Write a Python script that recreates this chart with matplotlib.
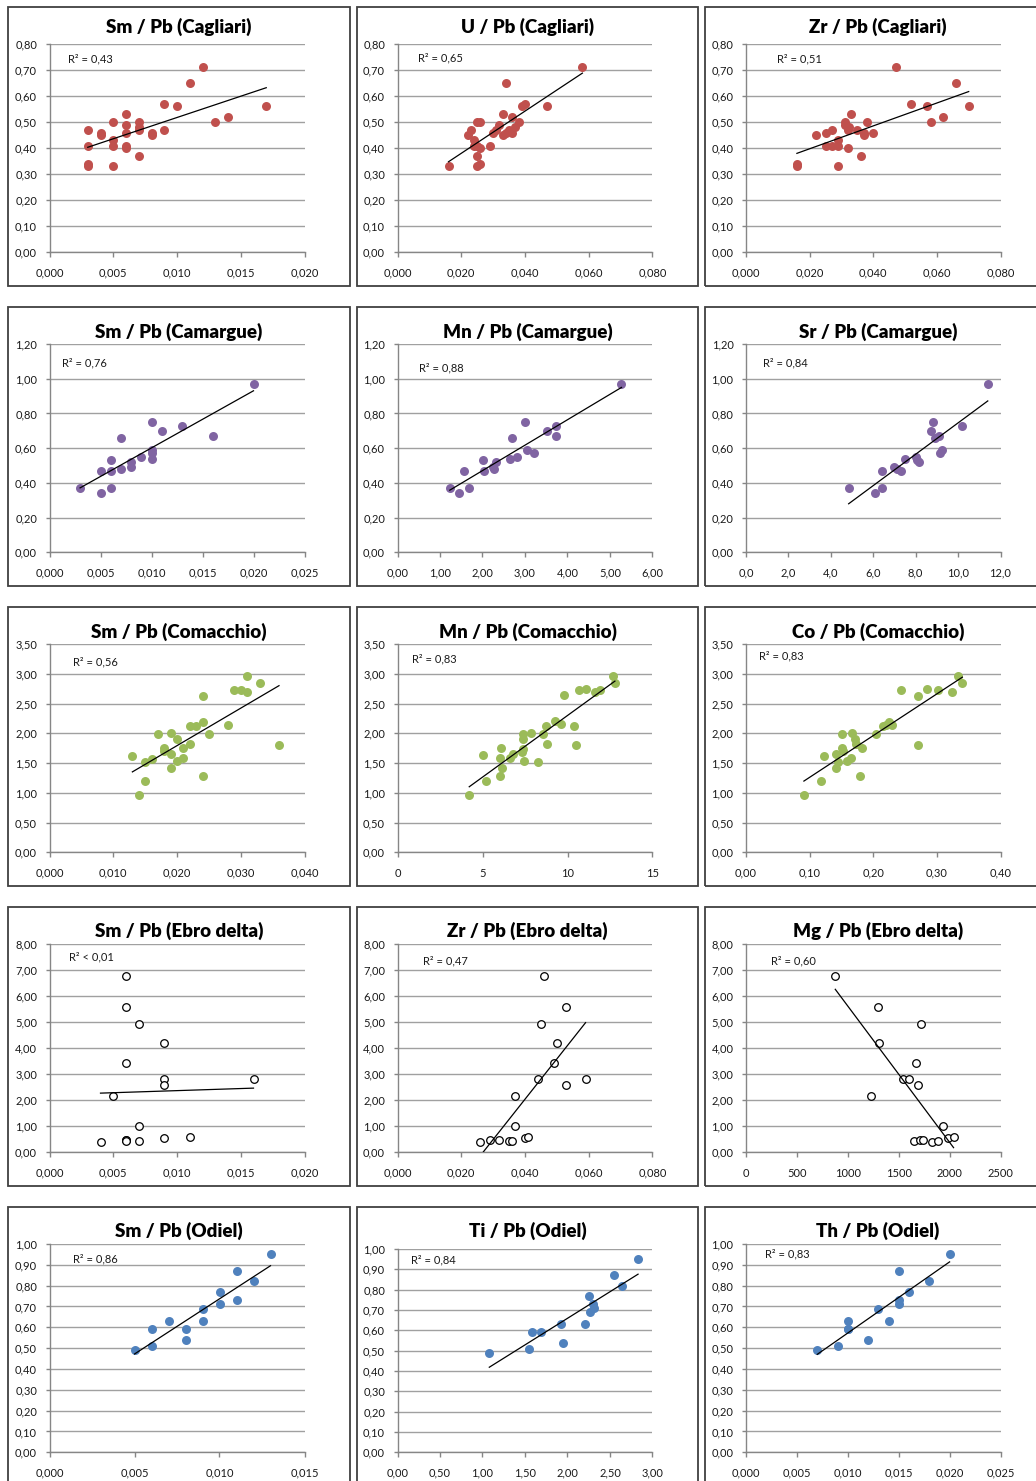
import numpy as np
import matplotlib
matplotlib.use("Agg")
import matplotlib.pyplot as plt
from matplotlib.patches import Rectangle
from matplotlib.ticker import FuncFormatter, MultipleLocator

plt.rcParams["font.family"] = ["Lato", "DejaVu Sans"]

# ---------------- data ----------------
# Cagliari
sm_cagliari_x = [0.003, 0.003, 0.003, 0.003, 0.004, 0.004, 0.005, 0.005, 0.005, 0.005, 0.006, 0.006, 0.006, 0.006,
                 0.006, 0.007, 0.007, 0.007, 0.007, 0.008, 0.008, 0.009, 0.009, 0.010, 0.011, 0.012, 0.013, 0.014, 0.017]
sm_cagliari_y = [0.47, 0.41, 0.34, 0.33, 0.46, 0.45, 0.50, 0.43, 0.41, 0.33, 0.53, 0.49, 0.46, 0.41,
                 0.40, 0.50, 0.48, 0.47, 0.37, 0.46, 0.45, 0.57, 0.47, 0.56, 0.65, 0.71, 0.50, 0.52, 0.56]
u_cagliari_x = [0.058, 0.034, 0.040, 0.047, 0.039, 0.033, 0.036, 0.025, 0.026, 0.038, 0.032, 0.037, 0.023, 0.031,
                0.035, 0.030, 0.034, 0.036, 0.022, 0.033, 0.024, 0.024, 0.025, 0.029, 0.026, 0.025, 0.026, 0.016, 0.025]
u_cagliari_y = [0.71, 0.65, 0.57, 0.56, 0.56, 0.53, 0.52, 0.50, 0.50, 0.50, 0.49, 0.48, 0.47, 0.47,
                0.47, 0.46, 0.46, 0.46, 0.45, 0.45, 0.43, 0.41, 0.41, 0.41, 0.40, 0.37, 0.34, 0.33, 0.33]
zr_cagliari_x = [0.016, 0.016, 0.022, 0.025, 0.027, 0.025, 0.027, 0.029, 0.029, 0.029, 0.032, 0.031, 0.033, 0.031,
                 0.0325, 0.032, 0.035, 0.037, 0.037, 0.036, 0.038, 0.040, 0.047, 0.052, 0.057, 0.058, 0.062, 0.066, 0.070]
zr_cagliari_y = [0.34, 0.33, 0.45, 0.46, 0.47, 0.41, 0.41, 0.41, 0.43, 0.33, 0.40, 0.50, 0.53, 0.49,
                 0.48, 0.47, 0.47, 0.46, 0.45, 0.37, 0.50, 0.46, 0.71, 0.57, 0.56, 0.50, 0.52, 0.65, 0.56]

# Camargue
sm_camargue_x = [0.003, 0.005, 0.005, 0.006, 0.006, 0.006, 0.007, 0.007, 0.008, 0.008, 0.009, 0.010, 0.010, 0.010,
                 0.010, 0.011, 0.013, 0.016, 0.020]
sm_camargue_y = [0.37, 0.47, 0.34, 0.53, 0.47, 0.37, 0.66, 0.48, 0.52, 0.49, 0.55, 0.75, 0.59, 0.57,
                 0.54, 0.70, 0.73, 0.67, 0.97]
mn_camargue_x = [1.23, 1.44, 1.57, 1.69, 2.01, 2.03, 2.25, 2.27, 2.31, 2.64, 2.70, 2.82, 2.99, 3.05,
                 3.21, 3.51, 3.74, 3.74, 5.27]
mn_camargue_y = [0.37, 0.34, 0.47, 0.37, 0.53, 0.47, 0.49, 0.48, 0.52, 0.54, 0.66, 0.55, 0.75, 0.59,
                 0.57, 0.70, 0.73, 0.67, 0.97]
sr_camargue_x = [4.84, 6.09, 6.41, 6.42, 6.97, 7.10, 7.29, 7.52, 8.00, 8.08, 8.14, 8.72, 8.80, 8.92,
                 9.09, 9.17, 9.25, 10.19, 11.40]
sr_camargue_y = [0.37, 0.34, 0.37, 0.47, 0.49, 0.48, 0.47, 0.54, 0.55, 0.53, 0.52, 0.70, 0.75, 0.66,
                 0.67, 0.57, 0.59, 0.73, 0.97]

# Comacchio
sm_comacchio_x = [0.013, 0.014, 0.015, 0.015, 0.016, 0.017, 0.018, 0.018, 0.019, 0.019, 0.019, 0.020, 0.020, 0.021,
                  0.021, 0.022, 0.022, 0.023, 0.024, 0.024, 0.024, 0.025, 0.028, 0.029, 0.030, 0.031, 0.031, 0.033, 0.036]
sm_comacchio_y = [1.62, 0.96, 1.51, 1.19, 1.57, 1.99, 1.76, 1.70, 2.00, 1.66, 1.41, 1.91, 1.53, 1.75,
                  1.59, 1.82, 2.12, 2.12, 2.19, 2.63, 1.28, 1.98, 2.14, 2.72, 2.73, 2.97, 2.69, 2.84, 1.81]
mn_comacchio_x = [4.22, 5.00, 5.21, 6.07, 6.04, 6.15, 6.05, 6.62, 6.78, 7.41, 7.41, 7.41, 7.35, 7.46, 7.88,
                  8.26, 8.53, 8.75, 8.82, 9.28, 9.61, 9.82, 10.39, 10.49, 10.69, 11.10, 11.59, 11.92, 12.69, 12.79]
mn_comacchio_y = [0.96, 1.63, 1.19, 1.76, 1.58, 1.41, 1.28, 1.58, 1.65, 1.99, 1.91, 1.74, 1.68, 1.54, 2.01,
                  1.52, 1.98, 2.12, 1.82, 2.20, 2.15, 2.64, 2.13, 1.81, 2.72, 2.74, 2.69, 2.72, 2.97, 2.85]
co_comacchio_x = [0.091, 0.118, 0.122, 0.142, 0.142, 0.144, 0.151, 0.151, 0.152, 0.159, 0.165, 0.167, 0.171, 0.173,
                  0.179, 0.183, 0.205, 0.215, 0.220, 0.225, 0.230, 0.244, 0.270, 0.271, 0.285, 0.302, 0.324, 0.333, 0.340]
co_comacchio_y = [0.96, 1.19, 1.62, 1.65, 1.41, 1.52, 1.76, 1.99, 1.70, 1.53, 1.59, 2.00, 1.91, 1.82,
                  1.28, 1.75, 1.98, 2.12, 2.14, 2.19, 2.14, 2.72, 1.81, 2.63, 2.74, 2.72, 2.69, 2.97, 2.85]

# Ebro delta
sm_ebro_x = [0.004, 0.005, 0.006, 0.006, 0.006, 0.006, 0.006, 0.006, 0.007, 0.007, 0.007, 0.009, 0.009, 0.009,
             0.009, 0.011, 0.016]
sm_ebro_y = [0.38, 2.16, 6.76, 5.57, 3.43, 0.47, 0.47, 0.44, 4.93, 1.00, 0.44, 4.20, 2.80, 2.60,
             0.56, 0.60, 2.80]
zr_ebro_x = [0.026, 0.029, 0.032, 0.035, 0.036, 0.037, 0.037, 0.040, 0.041, 0.044, 0.045, 0.046, 0.049, 0.050,
             0.053, 0.053, 0.059]
zr_ebro_y = [0.38, 0.47, 0.47, 0.44, 0.44, 2.16, 1.00, 0.56, 0.60, 2.80, 4.93, 6.76, 3.43, 4.20,
             5.57, 2.60, 2.80]
mg_ebro_x = [877, 1296, 1302, 1718, 1666, 1541, 1597, 1685, 1230, 1937, 1649, 1705, 1738, 1823,
             1888, 1983, 2039]
mg_ebro_y = [6.76, 5.57, 4.20, 4.93, 3.43, 2.80, 2.80, 2.60, 2.16, 1.00, 0.44, 0.47, 0.47, 0.38,
             0.44, 0.56, 0.60]

# Odiel
sm_odiel_x = [0.005, 0.006, 0.006, 0.007, 0.008, 0.008, 0.009, 0.009, 0.010, 0.010, 0.011, 0.011, 0.012, 0.013]
sm_odiel_y = [0.49, 0.59, 0.51, 0.63, 0.59, 0.54, 0.69, 0.63, 0.77, 0.71, 0.87, 0.73, 0.82, 0.95]
ti_odiel_x = [1.08, 1.55, 1.58, 1.69, 1.92, 1.95, 2.21, 2.25, 2.26, 2.30, 2.31, 2.55, 2.64, 2.83]
ti_odiel_y = [0.49, 0.51, 0.59, 0.59, 0.63, 0.54, 0.63, 0.77, 0.69, 0.73, 0.71, 0.87, 0.82, 0.95]
th_odiel_x = [0.007, 0.009, 0.010, 0.010, 0.010, 0.012, 0.013, 0.014, 0.015, 0.015, 0.015, 0.016, 0.018, 0.020]
th_odiel_y = [0.49, 0.51, 0.63, 0.59, 0.59, 0.54, 0.69, 0.63, 0.87, 0.73, 0.71, 0.77, 0.82, 0.95]

titles = [
    "Sm / Pb (Cagliari)", "U / Pb (Cagliari)", "Zr / Pb (Cagliari)",
    "Sm / Pb (Camargue)", "Mn / Pb (Camargue)", "Sr / Pb (Camargue)",
    "Sm / Pb (Comacchio)", "Mn / Pb (Comacchio)", "Co / Pb (Comacchio)",
    "Sm / Pb (Ebro delta)", "Zr / Pb (Ebro delta)", "Mg / Pb (Ebro delta)",
    "Sm / Pb (Odiel)", "Ti / Pb (Odiel)", "Th / Pb (Odiel)",
]
r2_labels = [
    "R² = 0,43", "R² = 0,65", "R² = 0,51",
    "R² = 0,76", "R² = 0,88", "R² = 0,84",
    "R² = 0,56", "R² = 0,83", "R² = 0,83",
    "R² < 0,01", "R² = 0,47", "R² = 0,60",
    "R² = 0,86", "R² = 0,84", "R² = 0,83",
]
series = [
    (sm_cagliari_x, sm_cagliari_y), (u_cagliari_x, u_cagliari_y), (zr_cagliari_x, zr_cagliari_y),
    (sm_camargue_x, sm_camargue_y), (mn_camargue_x, mn_camargue_y), (sr_camargue_x, sr_camargue_y),
    (sm_comacchio_x, sm_comacchio_y), (mn_comacchio_x, mn_comacchio_y), (co_comacchio_x, co_comacchio_y),
    (sm_ebro_x, sm_ebro_y), (zr_ebro_x, zr_ebro_y), (mg_ebro_x, mg_ebro_y),
    (sm_odiel_x, sm_odiel_y), (ti_odiel_x, ti_odiel_y), (th_odiel_x, th_odiel_y),
]

# x axis: (max, step, decimals) per panel
x_axes = [
    (0.020, 0.005, 3), (0.080, 0.020, 3), (0.080, 0.020, 3),
    (0.025, 0.005, 3), (6.0, 1.0, 2), (12.0, 2.0, 1),
    (0.040, 0.010, 3), (15, 5, 0), (0.40, 0.10, 2),
    (0.020, 0.005, 3), (0.080, 0.020, 3), (2500, 500, 0),
    (0.015, 0.005, 3), (3.0, 0.5, 2), (0.025, 0.005, 3),
]
# y axis per row: (max, step, decimals)
y_axes = [(0.80, 0.10, 2), (1.20, 0.20, 2), (3.50, 0.50, 2), (8.00, 1.00, 2), (1.00, 0.10, 2)]
row_colors = ["#C0504D", "#8064A2", "#9BBB59", None, "#4F81BD"]

# ---------------- layout (pixels) ----------------
W, H = 1036, 1481
col_box = [(8, 350), (357, 698), (705, 1047)]
row_box = [(7, 286), (307, 586), (607, 886), (907, 1186), (1207, 1495)]
plot_cols = [(49.5, 304.5), (397.5, 652.5), (746.0, 1000.5)]
plot_tops = [44, 344, 644, 944, 1244]
plot_h = 208.3
title_y = [27, 332, 632, 931, 1231]
r2_pos = [
    (68, 59), (418, 58), (777, 59),
    (62, 363), (419, 368), (763, 363),
    (73, 662), (412, 659), (759, 656),
    (69, 957), (423, 961), (771, 961),
    (73, 1259), (411, 1260), (765, 1254),
]

fig = plt.figure(figsize=(W / 100, H / 100), dpi=100)
fig.patch.set_facecolor("white")

grid_c = "#A0A0A0"
axis_c = "#868686"
text_c = "#1A1A1A"


def comma_fmt(dec):
    return FuncFormatter(lambda v, p: f"{v:.{dec}f}".replace(".", ","))


for i in range(15):
    r, c = divmod(i, 3)
    bx0, bx1 = col_box[c]
    by0, by1 = row_box[r]
    fig.add_artist(Rectangle((bx0 / W, 1 - by1 / H), (bx1 - bx0) / W, (by1 - by0) / H,
                             transform=fig.transFigure, fill=False, ec="#404040", lw=1.3))

    px0, px1 = plot_cols[c]
    top = plot_tops[r]
    if i == 13:
        top = 1249
    bottom = plot_tops[r] + plot_h
    ax = fig.add_axes([px0 / W, 1 - bottom / H, (px1 - px0) / W, (bottom - top) / H])

    x = np.array(series[i][0], dtype=float)
    y = np.array(series[i][1], dtype=float)
    xmax, xstep, xdec = x_axes[i]
    ymax, ystep, ydec = y_axes[r]

    if r == 3:
        ax.scatter(x, y, s=30, facecolor="white", edgecolor="black", linewidth=0.9, zorder=3)
    else:
        ax.scatter(x, y, s=42, color=row_colors[r], linewidth=0, zorder=3)

    # linear trend line over the data range
    k, b = np.polyfit(x, y, 1)
    xs = np.array([x.min(), x.max()])
    ax.plot(xs, k * xs + b, color="black", lw=0.9, zorder=4)

    ax.set_xlim(0, xmax)
    ax.set_ylim(0, ymax)
    ax.xaxis.set_major_locator(MultipleLocator(xstep))
    ax.yaxis.set_major_locator(MultipleLocator(ystep))
    ax.xaxis.set_major_formatter(comma_fmt(xdec))
    ax.yaxis.set_major_formatter(comma_fmt(ydec))

    ax.grid(axis="y", color=grid_c, lw=1.0, zorder=0)
    ax.set_axisbelow(True)
    for s in ("top", "right"):
        ax.spines[s].set_visible(False)
    for s in ("left", "bottom"):
        ax.spines[s].set_color(axis_c)
        ax.spines[s].set_linewidth(1.0)
    ax.tick_params(axis="y", direction="out", length=3, width=1.0, color=axis_c,
                   labelsize=8, labelcolor=text_c, pad=6)
    ax.tick_params(axis="x", direction="out", length=3.5, width=1.0, color=axis_c,
                   labelsize=8, labelcolor=text_c, pad=7.5)
    ax.patch.set_alpha(0)

    tx = (bx0 + min(bx1, 1047)) / 2
    if c == 2:
        tx = 878
    fig.text(tx / W, 1 - title_y[r] / H, titles[i], ha="center", va="center",
             fontsize=13.5, fontweight="heavy", color="black")
    rx, ry = r2_pos[i]
    fig.text(rx / W, 1 - ry / H, r2_labels[i], ha="left", va="center",
             fontsize=8, color=text_c)

fig.savefig("out.png", dpi=100, facecolor="white")
